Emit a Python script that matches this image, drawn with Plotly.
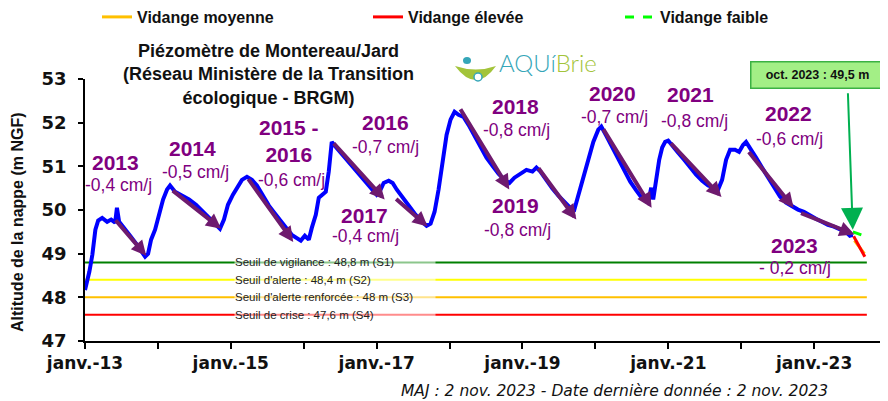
import plotly.graph_objects as go

# ---------------- DATA ----------------
dates = [
    "2013-01-01", "2013-01-13", "2013-01-23", "2013-02-07", "2013-02-22", "2013-03-08", "2013-03-28",
    "2013-04-22", "2013-05-12", "2013-06-01", "2013-06-10", "2013-06-21", "2013-07-16", "2013-08-15",
    "2013-09-14", "2013-10-09", "2013-10-29", "2013-11-13", "2013-11-28", "2013-12-18",
    "2014-01-07", "2014-01-27", "2014-02-16", "2014-03-03", "2014-03-28", "2014-05-02", "2014-06-06",
    "2014-07-11", "2014-08-15", "2014-09-19", "2014-10-19", "2014-11-08", "2014-11-28", "2014-12-18",
    "2015-01-12", "2015-02-01", "2015-02-26", "2015-03-23", "2015-04-17", "2015-05-12", "2015-06-11",
    "2015-07-11", "2015-08-10", "2015-09-09", "2015-10-09", "2015-11-03", "2015-11-28", "2015-12-18",
    "2016-01-07", "2016-01-27", "2016-02-11", "2016-03-02", "2016-03-17", "2016-04-06", "2016-04-21",
    "2016-05-06", "2016-05-21", "2016-06-05", "2016-07-05", "2016-08-04", "2016-09-03", "2016-10-03",
    "2016-11-02", "2016-12-02", "2017-01-01", "2017-01-16", "2017-02-05", "2017-03-02", "2017-03-22",
    "2017-04-11", "2017-05-11", "2017-06-10", "2017-07-10", "2017-08-09", "2017-09-08", "2017-09-28",
    "2017-10-18", "2017-11-07", "2017-11-27", "2017-12-17", "2018-01-06", "2018-01-26", "2018-02-15",
    "2018-03-12", "2018-04-06", "2018-05-06", "2018-06-05", "2018-07-05", "2018-08-04", "2018-09-03",
    "2018-10-03", "2018-10-28", "2018-11-22", "2018-12-22", "2019-01-21", "2019-02-20", "2019-03-12",
    "2019-04-01", "2019-05-01", "2019-05-31", "2019-06-30", "2019-07-30", "2019-08-29", "2019-09-18",
    "2019-10-08", "2019-11-02", "2019-11-27", "2019-12-22", "2020-01-16", "2020-01-31", "2020-02-25",
    "2020-03-26", "2020-04-25", "2020-05-25", "2020-06-24", "2020-07-24", "2020-08-23", "2020-09-22",
    "2020-10-07", "2020-10-17", "2020-11-01", "2020-11-16", "2020-12-01", "2020-12-16", "2020-12-31",
    "2021-01-20", "2021-02-19", "2021-03-21", "2021-04-20", "2021-05-20", "2021-06-19", "2021-07-19",
    "2021-08-18", "2021-09-07", "2021-09-27", "2021-10-17", "2021-11-06", "2021-12-01", "2021-12-21",
    "2022-01-10", "2022-01-25", "2022-02-14", "2022-03-16", "2022-04-15", "2022-05-15", "2022-06-14",
    "2022-07-14", "2022-08-13", "2022-09-12", "2022-10-12", "2022-11-11", "2022-12-11", "2023-01-10",
    "2023-02-09", "2023-03-11", "2023-04-10", "2023-05-10", "2023-06-09", "2023-06-29", "2023-07-14",
]
levels = [
    48.17, 48.40, 48.59, 48.98, 49.55, 49.76, 49.82,
    49.73, 49.78, 49.71, 50.05, 49.73, 49.60, 49.41,
    49.23, 49.05, 48.93, 49.00, 49.32, 49.55,
    49.89, 50.24, 50.47, 50.56, 50.42, 50.33, 50.24,
    50.12, 49.96, 49.82, 49.69, 49.57, 49.78, 50.12,
    50.35, 50.51, 50.69, 50.76, 50.69, 50.56, 50.33,
    50.10, 49.92, 49.73, 49.57, 49.43, 49.36, 49.30,
    49.41, 49.32, 49.59, 49.89, 50.28, 50.35, 50.42,
    50.88, 51.56, 51.47, 51.31, 51.13, 50.97, 50.81,
    50.65, 50.49, 50.35, 50.42, 50.62, 50.67, 50.62,
    50.47, 50.28, 50.10, 49.92, 49.76, 49.64, 49.69,
    49.96, 50.47, 51.15, 51.72, 52.07, 52.25, 52.18,
    52.13, 51.95, 51.70, 51.43, 51.20, 51.01, 50.83,
    50.69, 50.62, 50.74, 50.83, 50.92, 50.88, 50.97,
    50.88, 50.67, 50.49, 50.33, 50.19, 50.05, 50.01,
    50.33, 50.69, 51.11, 51.56, 51.84, 51.91, 51.70,
    51.43, 51.15, 50.88, 50.65, 50.45, 50.26, 50.17,
    50.51, 50.24, 50.70, 51.15, 51.43, 51.56, 51.59,
    51.47, 51.31, 51.15, 50.97, 50.81, 50.67, 50.56,
    50.51, 50.47, 50.69, 51.15, 51.38, 51.38, 51.33,
    51.49, 51.56, 51.43, 51.20, 50.97, 50.74, 50.51,
    50.31, 50.17, 50.08, 50.01, 49.96, 49.87, 49.80,
    49.73, 49.66, 49.62, 49.57, 49.50, 49.41, 49.43,
]

# projections (scenarios)
proj_names = ["Vidange moyenne", "Vidange élevée", "Vidange faible"]
proj_dates = [["2023-07-22", "2023-09-10"], ["2023-07-18", "2023-09-12"], ["2023-07-14", "2023-09-07"]]
proj_levels = [[49.30, 49.00], [49.40, 48.93], [49.50, 49.41]]

# thresholds
threshold_names = ["Seuil de vigilance : 48,8 m (S1)", "Seuil d'alerte : 48,4 m (S2)",
                   "Seuil d'alerte renforcée : 48 m (S3)", "Seuil de crise : 47,6 m (S4)"]
threshold_levels = [48.8, 48.4, 48.0, 47.6]
threshold_period = ["2013-01-01", "2023-09-22"]

# trends (arrows)
trend_years = ["2013", "2014", "2015 -<br>2016", "2016", "2017", "2018", "2019", "2020", "2021", "2022", "2023"]
trend_rates = ["-0,4 cm/j", "-0,5 cm/j", "-0,6 cm/j", "-0,7 cm/j", "-0,4 cm/j", "-0,8 cm/j",
               "-0,8 cm/j", "-0,7 cm/j", "-0,8 cm/j", "-0,6 cm/j", "- 0,2 cm/j"]
trend_start_dates = ["2013-05-28", "2014-03-09", "2015-03-25", "2016-05-24", "2017-04-01", "2018-02-20",
                     "2019-03-17", "2020-02-06", "2021-01-07", "2022-02-02", "2022-10-20"]
trend_start_levels = [49.80, 50.47, 50.74, 51.56, 50.28, 52.34, 50.99, 51.88, 51.56, 51.36, 49.94]
trend_end_dates = ["2013-11-04", "2014-11-14", "2015-11-10", "2017-02-10", "2017-09-13", "2018-10-27",
                   "2019-09-28", "2020-10-09", "2021-09-24", "2022-09-20", "2023-07-22"]
trend_end_levels = [48.95, 49.57, 49.27, 50.24, 49.62, 50.47, 49.78, 50.05, 50.30, 50.05, 49.44]

# axis ticks
year_ticks = ["%d-01-01" % y for y in range(2013, 2025)]
year_labels = ["janv.-13", "", "janv.-15", "", "janv.-17", "", "janv.-19", "", "janv.-21", "", "janv.-23", ""]

last_value_label = "oct. 2023 : 49,5 m"
last_value = 49.5
footer = "MAJ : 2 nov. 2023 - Date dernière donnée : 2 nov. 2023"
title = "Piézomètre de Montereau/Jard<br>(Réseau Ministère de la Transition<br>écologique - BRGM)"

# ---------------- LAYOUT HELPERS ----------------
# the page body adds an 8px offset; the figure is sized so that the whole window is covered
OFF = 8
W, H = 880, 393
L, R, T, B = 77, 1, 71, 60
PW, PH = W - L - R, H - T - B


def px(x, y):
    """window pixel -> paper coordinates"""
    return (x - OFF - L) / PW, (T + PH - (y - OFF)) / PH


PURPLE = "#800080"
ARROW = "#6E1A6E"
FONT = "Liberation Sans, Arial, sans-serif"

fig = go.Figure()

threshold_colors = ["#008000", "#FFFF00", "#FFC000", "#FF0000"]
for name, lvl, col in zip(threshold_names, threshold_levels, threshold_colors):
    fig.add_trace(go.Scatter(x=threshold_period, y=[lvl, lvl], mode="lines",
                             line=dict(color=col, width=2), showlegend=False, hoverinfo="skip"))

fig.add_trace(go.Scatter(x=dates, y=levels, mode="lines", line=dict(color="#0000FF", width=4),
                         showlegend=False))

proj_colors = ["#FFC000", "#FF0000", "#00FF00"]
proj_dash = ["solid", "solid", "dash"]
legend_ids = ["legend", "legend2", "legend3"]
for n, d, v, c, ds, lg in zip(proj_names, proj_dates, proj_levels, proj_colors, proj_dash, legend_ids):
    fig.add_trace(go.Scatter(x=d, y=v, mode="lines", name=n, line=dict(color=c, width=3, dash=ds),
                             legend=lg))

annotations = []

# threshold labels
for name, lvl in zip(threshold_names, threshold_levels):
    annotations.append(dict(x=px(234, 0)[0], xref="paper", y=lvl, yref="y", text=name, showarrow=False,
                            xanchor="left", yanchor="middle", align="left", width=200, height=12,
                            bgcolor="rgba(255,255,255,0.55)", borderpad=0,
                            font=dict(family=FONT, size=11.5, color="#222222")))

# trend arrows
for sd, sl, ed, el in zip(trend_start_dates, trend_start_levels, trend_end_dates, trend_end_levels):
    annotations.append(dict(x=ed, y=el, ax=sd, ay=sl, xref="x", yref="y", axref="x", ayref="y",
                            text="", showarrow=True, arrowhead=2, arrowsize=0.75, arrowwidth=4,
                            arrowcolor=ARROW, standoff=0))

# trend labels (year + rate) positions in window pixels
year_pos = [(115, 162), (192, 148), (289, 141), (385, 122), (364, 215), (515, 106), (515, 205),
            (612, 93), (690, 94), (788, 114), (794, 245)]
rate_pos = [(118, 185), (195, 172), (291, 180), (385, 147), (365, 236), (516, 130), (518, 230),
            (614, 117), (694, 121), (789, 139), (795, 268)]
for yr, rt, yp, rp in zip(trend_years, trend_rates, year_pos, rate_pos):
    xx, yy = px(*yp)
    annotations.append(dict(x=xx, y=yy, xref="paper", yref="paper", text=yr, showarrow=False,
                            xanchor="center", yanchor="middle",
                            font=dict(family=FONT, size=21, color=PURPLE, weight="bold")))
    xx, yy = px(*rp)
    annotations.append(dict(x=xx, y=yy, xref="paper", yref="paper", text=rt, showarrow=False,
                            xanchor="center", yanchor="middle",
                            font=dict(family=FONT, size=17.5, color=PURPLE)))

# title
xx, yy = px(268, 74)
annotations.append(dict(x=xx, y=yy, xref="paper", yref="paper", text=title, showarrow=False,
                        xanchor="center", yanchor="middle", align="center",
                        font=dict(family=FONT, size=18, color="#111111", weight="bold")))

# y axis title
xx, yy = px(17, 222)
annotations.append(dict(x=xx, y=yy, xref="paper", yref="paper", text="Altitude de la nappe (m NGF)",
                        showarrow=False, textangle=-90, xanchor="center", yanchor="middle",
                        font=dict(family=FONT, size=16, color="#111111", weight="bold")))

# footer
xx, yy = px(830, 391)
annotations.append(dict(x=xx, y=yy, xref="paper", yref="paper", text=footer, showarrow=False,
                        xanchor="right", yanchor="middle",
                        font=dict(family="DejaVu Sans, sans-serif", size=15.5, color="#111111",
                                  style="italic")))

# last value callout box
xx, yy = px(817, 74.5)
annotations.append(dict(x=xx, y=yy, xref="paper", yref="paper", text=last_value_label, showarrow=False,
                        xanchor="center", yanchor="middle", width=128, height=21, borderpad=2,
                        bgcolor="#A3EF86", bordercolor="#3BB143", borderwidth=1.5,
                        font=dict(family=FONT, size=12.5, color="#111111", weight="bold")))
annotations.append(dict(x=dates[-1], y=last_value, xref="x", yref="y", ax=-5, ay=-140, axref="pixel",
                        ayref="pixel", text="", showarrow=True, arrowhead=2, arrowsize=2.2,
                        arrowwidth=2, arrowcolor="#00B050", standoff=2))

# logo text
xx, yy = px(548, 63)
annotations.append(dict(x=xx, y=yy, xref="paper", yref="paper",
                        text='<span style="color:#35A6B8">AQUí</span><span style="color:#A3C43A">Brie</span>',
                        showarrow=False, xanchor="center", yanchor="middle",
                        font=dict(family="Lato, sans-serif", size=24, weight=300)))

shapes = []
# logo bowl
b0 = px(455, 66)
b1 = px(476, 94)
b2 = px(496, 66)
b3 = px(476, 73)
shapes.append(dict(type="path", xref="paper", yref="paper",
                   path="M %f,%f Q %f,%f %f,%f Q %f,%f %f,%f Z" % (b0[0], b0[1], b1[0], b1[1], b2[0], b2[1],
                                                                 b3[0], b3[1], b0[0], b0[1]),
                   fillcolor="#A3C43A", line=dict(width=0)))
d0 = px(463, 57)
d1 = px(471, 64)
shapes.append(dict(type="circle", xref="paper", yref="paper", x0=d0[0], y0=d0[1], x1=d1[0], y1=d1[1],
                   fillcolor="#35A6B8", line=dict(width=0)))
e0 = px(474, 73)
e1 = px(482, 81)
shapes.append(dict(type="circle", xref="paper", yref="paper", x0=e0[0], y0=e0[1], x1=e1[0], y1=e1[1],
                   fillcolor="white", line=dict(color="#35A6B8", width=1.5)))

legend_common = dict(orientation="h", yanchor="middle", xanchor="left", bgcolor="rgba(0,0,0,0)",
                     font=dict(family=FONT, size=16, color="#111111", weight="bold"), itemwidth=30)
ly = px(0, 17)[1]

fig.update_layout(
    width=W, height=H,
    margin=dict(l=L, r=R, t=T, b=B, autoexpand=False),
    paper_bgcolor="white", plot_bgcolor="white",
    showlegend=True,
    legend=dict(x=px(97, 0)[0], y=ly, **legend_common),
    legend2=dict(x=px(368, 0)[0], y=ly, **legend_common),
    legend3=dict(x=px(620, 0)[0], y=ly, **legend_common),
    xaxis=dict(type="date", range=["2013-01-01", "2024-01-01"], tickvals=year_ticks, ticktext=year_labels,
               ticks="outside", ticklen=6, tickwidth=1.5, tickcolor="black", showline=True,
               linecolor="black", linewidth=1.5, showgrid=False, zeroline=False, automargin=False,
               tickfont=dict(family="DejaVu Sans, sans-serif", size=17, color="#111111", weight="bold")),
    yaxis=dict(range=[47, 53], tick0=47, dtick=1, ticks="outside", ticklen=5, tickwidth=1.5,
               tickcolor="black", showline=True, linecolor="black", linewidth=1.5, showgrid=False,
               zeroline=False, ticklabelstandoff=8, automargin=False,
               tickfont=dict(family="DejaVu Sans, sans-serif", size=18, color="#111111", weight="bold")),
    annotations=annotations,
    shapes=shapes,
)

fig.write_html("out.html")
